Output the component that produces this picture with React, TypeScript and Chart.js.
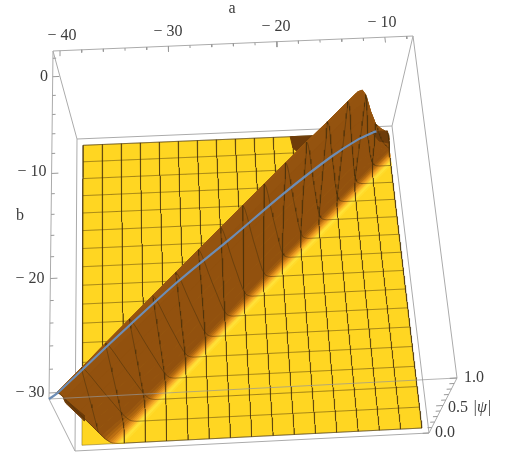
import React, { useEffect, useRef } from "react";
import { Chart, registerables } from "chart.js";

Chart.register(...registerables);

// ---- data ----
const aMajor = [-40, -30, -20, -10];
const aMinor = [-38, -36, -34, -32, -28, -26, -24, -22, -18, -16, -14, -12, -8];
const bMajor = [0, -10, -20, -30];
const bMinor = [2, -2, -4, -6, -8, -12, -14, -16, -18, -22, -24, -26, -28];
const zMajor = [0, 0.5, 1];
const zMinor = [0.1, 0.2, 0.3, 0.4, 0.6, 0.7, 0.8, 0.9];

const meshA = [-40, -38, -36, -34, -32, -30, -28, -26, -24, -22, -20, -18, -16, -14, -12, -10, -8];
const meshB = [2, 0, -2, -4, -6, -8, -10, -12, -14, -16, -18, -20, -22, -24, -26, -28, -30];

// ridge cross-section: offset from crest (a - b + 10) and height |psi|
const ridgeD = [-3, -2.5, -2, -1.5, -1, -0.5, -0.2, 0, 0.15, 0.4, 0.7, 1, 1.3, 1.6, 1.9, 2.2, 2.35, 2.5, 2.65, 2.8, 2.95, 3.1, 3.25, 3.4, 3.55, 3.7, 3.85, 4.0];
const ridgeZ = [0, 0.05, 0.2, 0.45, 0.7, 0.88, 0.97, 1, 0.97, 0.84, 0.66, 0.5, 0.36, 0.22, 0.1, 0.03, 0.015, 0.008, 0.003, 0, 0, 0, 0, 0, 0, 0, 0, 0];
const ridgeColors = [
  "#8a4c0d", "#8a4c0d", "#8a4c0d", "#8a4c0d", "#ad6a12", "#ad6a12", "#ad6a12",
  "#96540f", "#94530f", "#92510e", "#92510e", "#92510e", "#92510e", "#92510e", "#92510e",
  "#9a570f", "#a9620f", "#bb6e12", "#cf7f18", "#e0901f", "#ee9f25", "#f7b02a", "#fcc22e", "#ffd433", "#ffe238", "#ffe33a", "#ffdc2c",
];
// crest height falls off near the far corner
const crestA = [-42, -13, -12.5, -12, -11.5, -11, -10, -9, -8];
const crestG = [1, 1, 0.96, 0.85, 0.7, 0.55, 0.3, 0.14, 0];
// the ridge is a little wider at its near end
const widthA = [-40, -36, -31, -8];
const widthW = [1.3, 1.12, 1, 1];

// blue curve on the surface
const blueA = [-40.65, -40, -35, -30, -25, -20, -15, -12, -10, -9.6];
const blueB = [-30.5, -30, -25, -20, -15, -10, -5, -2, 0, 0.4];
const blueZ = [1, 0.99, 0.93, 0.85, 0.71, 0.6, 0.45, 0.32, 0.2, 0.17];

// dark specks on the floor at the back edge
const patch1A = [-18.2, -15.5, -17, -18];
const patch1B = [2, 2, -0.5, 0.6];
const patch2A = [-9.7, -8, -8, -9];
const patch2B = [2, 2, 0.5, 0.8];
// dark sliver at the near end of the ridge
const sliverA = [-39.7, -38.6, -38.8, -39.7];
const sliverZ = [0.9, 0.55, 0.45, 0.8];

// plot box limits
const A0 = -40.65, A1 = -7.4, B0 = 2.8, B1 = -30.5;
const FLOOR_A0 = -40, FLOOR_A1 = -8, FLOOR_B0 = 2, FLOOR_B1 = -30;
// view: screen corners of the box at |psi|=0 and |psi|=1 (back-left, back-right, front-right, front-left)
const VIEW0 = [[77, 139], [392, 126], [429, 433], [75, 451]];
const VIEW1 = [[53, 51], [413, 36], [457, 378], [49, 399]];
const DEPTH = 1.15;

type P = { x: number; y: number };

function project(a: number, b: number, z: number): P {
  const u = (a - A0) / (A1 - A0);
  const v = (B0 - b) / (B0 - B1);
  const t = v / (v + (1 - v) * DEPTH);
  const at = (q: number[][]) => {
    const lx = q[0][0] + (q[3][0] - q[0][0]) * t, ly = q[0][1] + (q[3][1] - q[0][1]) * t;
    const rx = q[1][0] + (q[2][0] - q[1][0]) * t, ry = q[1][1] + (q[2][1] - q[1][1]) * t;
    return [lx + (rx - lx) * u, ly + (ry - ly) * u];
  };
  const p0 = at(VIEW0), p1 = at(VIEW1);
  return { x: p0[0] + (p1[0] - p0[0]) * z, y: p0[1] + (p1[1] - p0[1]) * z };
}

function lookup(xs: number[], ys: number[], x: number) {
  if (x <= xs[0]) return ys[0];
  for (let i = 1; i < xs.length; i++) {
    if (x <= xs[i]) return ys[i - 1] + ((ys[i] - ys[i - 1]) * (x - xs[i - 1])) / (xs[i] - xs[i - 1]);
  }
  return ys[ys.length - 1];
}

function height(a: number, b: number) {
  const along = (a + b - 10) / 2;
  const d = (a - b + 10) / (a - b + 10 > 0 ? lookup(widthA, widthW, along) : 1);
  if (d <= ridgeD[0] || d >= ridgeD[ridgeD.length - 1]) return 0;
  return lookup(ridgeD, ridgeZ, d) * lookup(crestA, crestG, along);
}

function range(from: number, to: number, n: number) {
  return Array.from({ length: n + 1 }, (_, i) => from + ((to - from) * i) / n);
}

function crossLine(d: number): P[] {
  const lo = Math.max(FLOOR_B1, FLOOR_A0 - d + 10);
  const hi = Math.min(FLOOR_B0, FLOOR_A1 - d + 10);
  return range(lo, hi, 64).map((b) => project(b - 10 + d, b, height(b - 10 + d, b)));
}

function buildDatasets() {
  const ds: any[] = [];
  const line = (data: P[], color: string, width = 1, tension = 0) =>
    ds.push({ data, borderColor: color, borderWidth: width, fill: false, pointRadius: 0, tension });
  const poly = (data: P[], color: string, border = color, width = 1) =>
    ds.push({ data: [...data, data[0]], backgroundColor: color, borderColor: border, borderWidth: width, fill: "shape", pointRadius: 0, tension: 0 });

  const boxC = "#ababab";
  // back of box
  line([project(A0, B0, 1), project(A1, B0, 1)], boxC);
  line([project(A0, B0, 1), project(A0, B1, 1)], boxC);
  line([project(A1, B0, 1), project(A1, B1, 1)], boxC);
  line([project(A0, B0, 0), project(A1, B0, 0)], boxC);
  line([project(A0, B0, 0), project(A0, B1, 0)], boxC);
  line([project(A1, B0, 0), project(A1, B1, 0)], boxC);
  line([project(A0, B1, 0), project(A1, B1, 0)], boxC);
  line([project(A0, B0, 0), project(A0, B0, 1)], boxC);
  line([project(A1, B0, 0), project(A1, B0, 1)], boxC);
  line([project(A0, B1, 0), project(A0, B1, 1)], boxC);
  line([project(A1, B1, 0), project(A1, B1, 1)], boxC);

  // ticks
  const tick = "#999999";
  aMajor.forEach((a) => line([project(a, B0, 1), project(a, B0 - 0.6, 1)], tick));
  aMinor.forEach((a) => line([project(a, B0, 1), project(a, B0 - 0.3, 1)], tick));
  bMajor.forEach((b) => line([project(A0, b, 1), project(A0 + 0.6, b, 1)], tick));
  bMinor.forEach((b) => line([project(A0, b, 1), project(A0 + 0.3, b, 1)], tick));
  zMajor.forEach((z) => line([project(A1, B1, z), project(A1 - 0.6, B1, z)], tick));
  zMinor.forEach((z) => line([project(A1, B1, z), project(A1 - 0.4, B1, z)], tick));

  // floor
  poly(
    [project(FLOOR_A0, FLOOR_B0, 0), project(FLOOR_A1, FLOOR_B0, 0), project(FLOOR_A1, FLOOR_B1, 0), project(FLOOR_A0, FLOOR_B1, 0)],
    "#ffd622",
    "rgba(120,100,30,0.5)"
  );

  const meshC = "rgba(70,48,12,0.5)";
  const lines: { behind: P[]; front: P[] }[] = [];
  meshA.forEach((a) => {
    const s = { behind: [] as P[], front: [] as P[] };
    range(FLOOR_B0, FLOOR_B1, 320).forEach((b) => {
      (a - b + 10 < 0 ? s.behind : s.front).push(project(a, b, height(a, b)));
    });
    lines.push(s);
  });
  meshB.forEach((b) => {
    const s = { behind: [] as P[], front: [] as P[] };
    range(FLOOR_A0, FLOOR_A1, 320).forEach((a) => {
      (a - b + 10 < 0 ? s.behind : s.front).push(project(a, b, height(a, b)));
    });
    lines.push(s);
  });
  lines.forEach((s) => s.behind.length > 1 && line(s.behind, meshC));

  poly(patch1A.map((a, i) => project(a, patch1B[i], 0)), "#6e3c0a");

  // ridge strips, cliff first
  for (let i = 0; i < ridgeD.length - 1; i++) {
    const p = crossLine(ridgeD[i]);
    const q = crossLine(ridgeD[i + 1]);
    poly([...p, ...q.reverse()], ridgeColors[i]);
  }
  poly(patch2A.map((a, i) => project(a, patch2B[i], 0.02)), "#6e3c0a");
  poly(sliverA.map((a, i) => project(a, FLOOR_B1, sliverZ[i])), "#6b3a08");

  lines.forEach((s) => s.front.length > 1 && line(s.front, meshC));

  // front top edge passes over the surface, then the blue curve
  line([project(A0, B1, 1), project(A1, B1, 1)], "rgba(150,150,150,0.7)");
  line(blueA.map((a, i) => project(a, blueB[i], blueZ[i])), "#6d8db5", 2.2, 0.3);

  // chart.js paints the first dataset last
  return ds.reverse();
}

const labelFont = "16px 'Liberation Serif'";
const labels: [string, number, number][] = [
  ["a", 232, 9],
  ["\u2212 40", 62, 36],
  ["\u2212 30", 168, 32],
  ["\u2212 20", 276, 27],
  ["\u2212 10", 382, 23],
  ["b", 20, 216],
  ["0", 44, 77],
  ["\u2212 10", 32, 172],
  ["\u2212 20", 30, 279],
  ["\u2212 30", 30, 393],
  ["1.0", 474, 378],
  ["0.5", 458, 408],
  ["|\u03c8|", 482, 408],
  ["0.0", 445, 433],
];

const labelPlugin = {
  id: "boxLabels",
  afterDraw(chart: any) {
    const { ctx, scales } = chart;
    ctx.save();
    ctx.fillStyle = "#3c3c3c";
    ctx.font = labelFont;
    ctx.textAlign = "center";
    ctx.textBaseline = "middle";
    labels.forEach(([s, x, y]) => {
      ctx.font = s.includes("\u03c8") ? "italic 16px 'Liberation Serif'" : labelFont;
      ctx.fillText(s, scales.x.getPixelForValue(x), scales.y.getPixelForValue(y));
    });
    ctx.restore();
  },
};

export default function App() {
  const ref = useRef<HTMLCanvasElement>(null);
  useEffect(() => {
    const chart = new Chart(ref.current!, {
      type: "line",
      data: { datasets: buildDatasets() },
      plugins: [labelPlugin],
      options: {
        animation: false,
        responsive: false,
        parsing: false,
        normalized: false,
        layout: { padding: 0 },
        plugins: { legend: { display: false }, tooltip: { enabled: false } },
        elements: { line: { capBezierPoints: false } },
        scales: {
          x: { type: "linear", min: 0, max: 507, display: false },
          y: { type: "linear", min: 0, max: 462, reverse: true, display: false },
        },
      },
    } as any);
    return () => chart.destroy();
  }, []);
  return (
    <div style={{ position: "absolute", left: 0, top: 0, width: 507, height: 462, background: "#fff" }}>
      <canvas ref={ref} width={507} height={462} style={{ display: "block", filter: "blur(0.7px)" }} />
    </div>
  );
}
